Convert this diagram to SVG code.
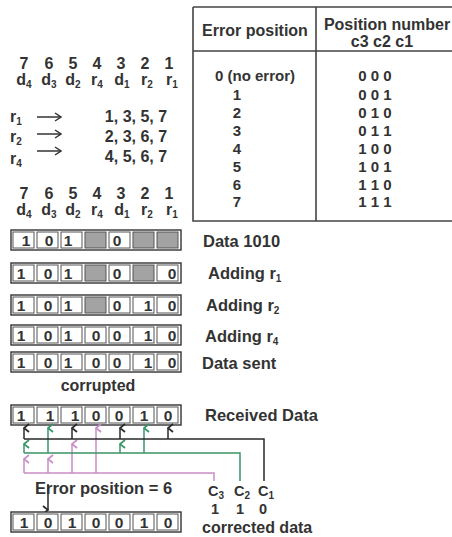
<svg xmlns="http://www.w3.org/2000/svg" width="452" height="537" viewBox="0 0 452 537">
<style>
text{font-family:"Liberation Sans",Arial,sans-serif;font-weight:bold;fill:#333;}
.t14{font-size:16px;}
.t13{font-size:15px;}
.t15{font-size:16.5px;}
.c{font-size:15.5px;}
.s{font-size:14.5px;}
.mid{text-anchor:middle;}
.sub{font-size:10px;}
.tb{stroke:#444;stroke-width:1.6;fill:none;}
.outer{fill:#fff;stroke:#333;stroke-width:1.4;}
.cell{fill:#fff;stroke:#555;stroke-width:1;}
.gray{fill:#a3a3a3;stroke:#555;stroke-width:1;}
.blk{stroke:#2a2a2a;stroke-width:1.5;fill:none;}
.grn{stroke:#3a9468;stroke-width:1.5;fill:none;}
.pnk{stroke:#c98cc4;stroke-width:1.5;fill:none;}
</style>
<defs>
<marker id="aB" viewBox="0 0 10 10" refX="5" refY="1" markerWidth="10" markerHeight="10" markerUnits="userSpaceOnUse" orient="auto-start-reverse"><path d="M1,6 L5,1 L9,6" fill="none" stroke="#2a2a2a" stroke-width="1.8"/></marker>
<marker id="aG" viewBox="0 0 10 10" refX="5" refY="1" markerWidth="10" markerHeight="10" markerUnits="userSpaceOnUse" orient="auto-start-reverse"><path d="M1,6 L5,1 L9,6" fill="none" stroke="#3a9468" stroke-width="1.8"/></marker>
<marker id="aP" viewBox="0 0 10 10" refX="5" refY="1" markerWidth="10" markerHeight="10" markerUnits="userSpaceOnUse" orient="auto-start-reverse"><path d="M1,6 L5,1 L9,6" fill="none" stroke="#c98cc4" stroke-width="1.8"/></marker>
<marker id="aR" viewBox="0 0 10 10" refX="9" refY="5" markerWidth="10" markerHeight="10" markerUnits="userSpaceOnUse" orient="auto"><path d="M3,1 L9,5 L3,9" fill="none" stroke="#333" stroke-width="1.5"/></marker>
</defs>

<!-- Table -->
<g id="table">
<path class="tb" d="M193,7 H456 M193,7 V221 H456 M193,51 H456 M316,7 V221"/>
<text class="t14 mid" x="255" y="36">Error position</text>
<text class="t14 mid" x="387" y="30">Position number</text>
<text class="t14 mid" x="382" y="47">c3 c2 c1</text>
<text class="t13 mid" x="255" y="81">0 (no error)</text>
<text class="t13 mid" x="237" y="100">1</text>
<text class="t13 mid" x="237" y="118">2</text>
<text class="t13 mid" x="237" y="136">3</text>
<text class="t13 mid" x="237" y="154">4</text>
<text class="t13 mid" x="237" y="172">5</text>
<text class="t13 mid" x="237" y="190">6</text>
<text class="t13 mid" x="237" y="207">7</text>
<text class="t13 mid" x="375" y="81">0 0 0</text>
<text class="t13 mid" x="375" y="100">0 0 1</text>
<text class="t13 mid" x="375" y="118">0 1 0</text>
<text class="t13 mid" x="375" y="136">0 1 1</text>
<text class="t13 mid" x="375" y="154">1 0 0</text>
<text class="t13 mid" x="375" y="172">1 0 1</text>
<text class="t13 mid" x="375" y="190">1 1 0</text>
<text class="t13 mid" x="375" y="207">1 1 1</text>
</g>

<!-- Position header 1 -->
<g id="positions1">
<text class="t14 mid" x="24" y="69">7</text>
<text class="t14 mid" x="49" y="69">6</text>
<text class="t14 mid" x="73" y="69">5</text>
<text class="t14 mid" x="97" y="69">4</text>
<text class="t14 mid" x="121" y="69">3</text>
<text class="t14 mid" x="145" y="69">2</text>
<text class="t14 mid" x="169" y="69">1</text>
<text class="t14 mid" x="24" y="85">d<tspan class="sub" dy="3">4</tspan></text>
<text class="t14 mid" x="49" y="85">d<tspan class="sub" dy="3">3</tspan></text>
<text class="t14 mid" x="73" y="85">d<tspan class="sub" dy="3">2</tspan></text>
<text class="t14 mid" x="97" y="85">r<tspan class="sub" dy="3">4</tspan></text>
<text class="t14 mid" x="122" y="85">d<tspan class="sub" dy="3">1</tspan></text>
<text class="t14 mid" x="147" y="85">r<tspan class="sub" dy="3">2</tspan></text>
<text class="t14 mid" x="172" y="85">r<tspan class="sub" dy="3">1</tspan></text>
</g>

<g id="parity">
<text class="t14" x="10" y="122">r<tspan class="sub" dy="3">1</tspan></text>
<text class="t14" x="10" y="142">r<tspan class="sub" dy="3">2</tspan></text>
<text class="t14" x="10" y="164">r<tspan class="sub" dy="3">4</tspan></text>
<path d="M37,117 H61" stroke="#333" stroke-width="1.5" marker-end="url(#aR)"/>
<path d="M37,134 H61" stroke="#333" stroke-width="1.5" marker-end="url(#aR)"/>
<path d="M37,151 H61" stroke="#333" stroke-width="1.5" marker-end="url(#aR)"/>
<text class="t14 mid" x="136" y="122">1, 3, 5, 7</text>
<text class="t14 mid" x="136" y="142">2, 3, 6, 7</text>
<text class="t14 mid" x="136" y="162">4, 5, 6, 7</text>
</g>

<g id="positions2">
<text class="t14 mid" x="24" y="199">7</text>
<text class="t14 mid" x="49" y="199">6</text>
<text class="t14 mid" x="73" y="199">5</text>
<text class="t14 mid" x="97" y="199">4</text>
<text class="t14 mid" x="121" y="199">3</text>
<text class="t14 mid" x="145" y="199">2</text>
<text class="t14 mid" x="169" y="199">1</text>
<text class="t14 mid" x="24" y="215">d<tspan class="sub" dy="3">4</tspan></text>
<text class="t14 mid" x="49" y="215">d<tspan class="sub" dy="3">3</tspan></text>
<text class="t14 mid" x="73" y="215">d<tspan class="sub" dy="3">2</tspan></text>
<text class="t14 mid" x="97" y="215">r<tspan class="sub" dy="3">4</tspan></text>
<text class="t14 mid" x="122" y="215">d<tspan class="sub" dy="3">1</tspan></text>
<text class="t14 mid" x="147" y="215">r<tspan class="sub" dy="3">2</tspan></text>
<text class="t14 mid" x="172" y="215">r<tspan class="sub" dy="3">1</tspan></text>
</g>

<!-- Row 1 -->
<g id="row1">
<rect class="outer" x="11" y="230" width="170" height="20"/>
<rect class="cell" x="13" y="232" width="21" height="16"/><rect class="cell" x="37" y="232" width="21" height="16"/><rect class="cell" x="61" y="232" width="21" height="16"/><rect class="gray" x="85" y="232" width="21" height="16"/><rect class="cell" x="109" y="232" width="21" height="16"/><rect class="gray" x="133" y="232" width="21" height="16"/><rect class="gray" x="157" y="232" width="21" height="16"/>
<text class="c mid" x="26" y="246">1</text><text class="c mid" x="49" y="246">0</text><text class="c mid" x="68" y="246">1</text><text class="c mid" x="117" y="246">0</text>
<text class="t15" x="203" y="247">Data 1010</text>
</g>
<g id="row2">
<rect class="outer" x="11" y="263" width="170" height="20"/>
<rect class="cell" x="13" y="265" width="21" height="16"/><rect class="cell" x="37" y="265" width="21" height="16"/><rect class="cell" x="61" y="265" width="21" height="16"/><rect class="gray" x="85" y="265" width="21" height="16"/><rect class="cell" x="109" y="265" width="21" height="16"/><rect class="gray" x="133" y="265" width="21" height="16"/><rect class="cell" x="157" y="265" width="21" height="16"/>
<text class="c mid" x="21" y="279">1</text><text class="c mid" x="48" y="279">0</text><text class="c mid" x="68" y="279">1</text><text class="c mid" x="117" y="279">0</text><text class="c mid" x="172" y="279">0</text>
<text class="t15" x="208" y="279">Adding r<tspan class="sub" dy="3">1</tspan></text>
</g>
<g id="row3">
<rect class="outer" x="11" y="295" width="170" height="20"/>
<rect class="cell" x="13" y="297" width="21" height="16"/><rect class="cell" x="37" y="297" width="21" height="16"/><rect class="cell" x="61" y="297" width="21" height="16"/><rect class="gray" x="85" y="297" width="21" height="16"/><rect class="cell" x="109" y="297" width="21" height="16"/><rect class="cell" x="133" y="297" width="21" height="16"/><rect class="cell" x="157" y="297" width="21" height="16"/>
<text class="c mid" x="21" y="311">1</text><text class="c mid" x="48" y="311">0</text><text class="c mid" x="68" y="311">1</text><text class="c mid" x="117" y="311">0</text><text class="c mid" x="148" y="311">1</text><text class="c mid" x="172" y="311">0</text>
<text class="t15" x="206" y="311">Adding r<tspan class="sub" dy="3">2</tspan></text>
</g>
<g id="row4">
<rect class="outer" x="11" y="325" width="170" height="20"/>
<rect class="cell" x="13" y="327" width="21" height="16"/><rect class="cell" x="37" y="327" width="21" height="16"/><rect class="cell" x="61" y="327" width="21" height="16"/><rect class="cell" x="85" y="327" width="21" height="16"/><rect class="cell" x="109" y="327" width="21" height="16"/><rect class="cell" x="133" y="327" width="21" height="16"/><rect class="cell" x="157" y="327" width="21" height="16"/>
<text class="c mid" x="21" y="341">1</text><text class="c mid" x="48" y="341">0</text><text class="c mid" x="68" y="341">1</text><text class="c mid" x="96" y="341">0</text><text class="c mid" x="117" y="341">0</text><text class="c mid" x="148" y="341">1</text><text class="c mid" x="172" y="341">0</text>
<text class="t15" x="205" y="342">Adding r<tspan class="sub" dy="3">4</tspan></text>
</g>
<g id="row5">
<rect class="outer" x="11" y="352" width="170" height="20"/>
<rect class="cell" x="13" y="354" width="21" height="16"/><rect class="cell" x="37" y="354" width="21" height="16"/><rect class="cell" x="61" y="354" width="21" height="16"/><rect class="cell" x="85" y="354" width="21" height="16"/><rect class="cell" x="109" y="354" width="21" height="16"/><rect class="cell" x="133" y="354" width="21" height="16"/><rect class="cell" x="157" y="354" width="21" height="16"/>
<text class="c mid" x="21" y="368">1</text><text class="c mid" x="48" y="368">0</text><text class="c mid" x="68" y="368">1</text><text class="c mid" x="96" y="368">0</text><text class="c mid" x="117" y="368">0</text><text class="c mid" x="148" y="368">1</text><text class="c mid" x="172" y="368">0</text>
<text class="t15" x="202" y="369">Data sent</text>
</g>
<text class="t14 mid" x="98" y="391">corrupted</text>
<g id="received">
<rect class="outer" x="11" y="405" width="170" height="20"/>
<rect class="cell" x="13" y="407" width="21" height="16"/><rect class="cell" x="37" y="407" width="21" height="16"/><rect class="cell" x="61" y="407" width="21" height="16"/><rect class="cell" x="85" y="407" width="21" height="16"/><rect class="cell" x="109" y="407" width="21" height="16"/><rect class="cell" x="133" y="407" width="21" height="16"/><rect class="cell" x="157" y="407" width="21" height="16"/>
<text class="c mid" x="21" y="421">1</text><text class="c mid" x="50" y="421">1</text><text class="c mid" x="75" y="421">1</text><text class="c mid" x="96" y="421">0</text><text class="c mid" x="119" y="421">0</text><text class="c mid" x="144" y="421">1</text><text class="c mid" x="168" y="421">0</text>
<text class="t15" x="205" y="421">Received Data</text>
</g>

<g id="connectors">
<path class="pnk" d="M24,473 H214 V481"/>
<path class="pnk" d="M24,473 V459" marker-end="url(#aP)"/>
<path class="pnk" d="M48,473 V459" marker-end="url(#aP)"/>
<path class="pnk" d="M72,473 V444" marker-end="url(#aP)"/>
<path class="pnk" d="M96,473 V428" marker-end="url(#aP)"/>
<path class="grn" d="M24,453 H240 V481"/>
<path class="grn" d="M24,453 V444" marker-end="url(#aG)"/>
<path class="grn" d="M48,453 V428" marker-end="url(#aG)"/>
<path class="grn" d="M120,453 V444" marker-end="url(#aG)"/>
<path class="grn" d="M144,453 V428" marker-end="url(#aG)"/>
<path class="blk" d="M24,439 H264 V481"/>
<path class="blk" d="M24,439 V428" marker-end="url(#aB)"/>
<path class="blk" d="M72,439 V428" marker-end="url(#aB)"/>
<path class="blk" d="M120,439 V428" marker-end="url(#aB)"/>
<path class="blk" d="M168,439 V428" marker-end="url(#aB)"/>
<path class="blk" d="M48,484 V510" marker-end="url(#aB)"/>
</g>

<g id="syndrome">
<text class="t15" x="35" y="494">Error position = 6</text>
<text class="s mid" x="216" y="496">C<tspan class="sub" dy="3">3</tspan></text>
<text class="s mid" x="242" y="496">C<tspan class="sub" dy="3">2</tspan></text>
<text class="s mid" x="266" y="496">C<tspan class="sub" dy="3">1</tspan></text>
<text class="s mid" x="215" y="514">1</text>
<text class="s mid" x="240" y="514">1</text>
<text class="s mid" x="263" y="514">0</text>
</g>

<g id="corrected">
<rect class="outer" x="11" y="512" width="170" height="20"/>
<rect class="cell" x="13" y="514" width="21" height="16"/><rect class="cell" x="37" y="514" width="21" height="16"/><rect class="cell" x="61" y="514" width="21" height="16"/><rect class="cell" x="85" y="514" width="21" height="16"/><rect class="cell" x="109" y="514" width="21" height="16"/><rect class="cell" x="133" y="514" width="21" height="16"/><rect class="cell" x="157" y="514" width="21" height="16"/>
<text class="c mid" x="24" y="528">1</text><text class="c mid" x="48" y="528">0</text><text class="c mid" x="72" y="528">1</text><text class="c mid" x="96" y="528">0</text><text class="c mid" x="119" y="528">0</text><text class="c mid" x="144" y="528">1</text><text class="c mid" x="168" y="528">0</text>
<text class="t14" x="202" y="533">corrected data</text>
</g>
</svg>
